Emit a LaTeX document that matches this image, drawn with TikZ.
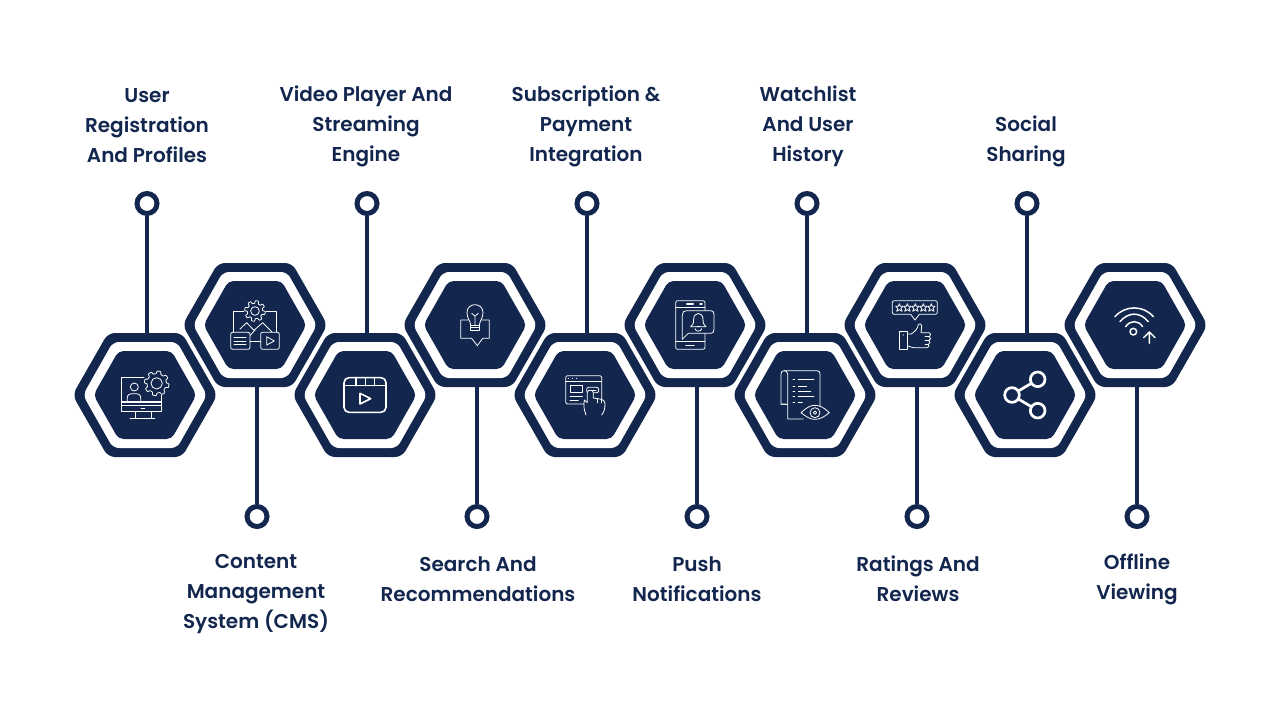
\documentclass[tikz,border=0pt]{standalone}
\usepackage{fontspec}
\setmainfont{Poppins}[BoldFont={Poppins SemiBold}]
\definecolor{navy}{HTML}{12264E}
\tikzset{
  x=1pt,y=-1pt,
  stem/.style={draw=navy,line width=4.4pt},
  dot/.style={circle,draw=navy,line width=5pt,fill=white,minimum size=20pt,inner sep=0pt},
  lab/.style={align=center,font=\fontsize{20}{30}\selectfont\bfseries,text=navy,inner sep=0pt},
  hexbox/.style={rectangle,minimum width=140pt,minimum height=124pt,inner sep=0pt},
  ic/.style={draw=white,line width=.8pt,line join=round,line cap=round},
  icf/.style={ic,fill=navy},
  zoomat/.style 2 args={shift={(#1,#2)},x=.33333pt,y=-.33333pt}
}
\newcommand{\hexpath}[5]{% cx cy halfw halfh halftop
  (#1-#3,#2) -- (#1-#5,#2-#4) -- (#1+#5,#2-#4) -- (#1+#3,#2) -- (#1+#5,#2+#4) -- (#1-#5,#2+#4) -- cycle}
\newcommand{\hexa}[3]{%
  \fill[navy,rounded corners=7pt] \hexpath{#2}{#3}{72.5}{62}{37};
  \fill[white,rounded corners=6pt] \hexpath{#2}{#3}{62}{53}{32};
  \fill[navy,rounded corners=5pt] \hexpath{#2}{#3}{51.5}{44}{26.5};
  \node[hexbox] (#1) at (#2,#3) {};
}
\newcommand{\gear}[5]{% cx cy R A n
  \draw[ic,fill=navy] plot[domain=0:360,samples=161] ({#1+(#3+#4*max(-1,min(1,2.5*sin(#5*\x)))*1)*cos(\x)},{#2+(#3+#4*max(-1,min(1,2.5*sin(#5*\x)))*1)*sin(\x)}) -- cycle;
}
\begin{document}
\begin{tikzpicture}
\useasboundingbox (0,0) rectangle (1280,720);
\fill[white] (0,0) rectangle (1280,720);
% hexagons
\hexa{h1}{145}{395}
\hexa{h2}{255}{325}
\hexa{h3}{365}{395}
\hexa{h4}{475}{325}
\hexa{h5}{585}{395}
\hexa{h6}{695}{325}
\hexa{h7}{805}{395}
\hexa{h8}{915}{325}
\hexa{h9}{1025}{395}
\hexa{h10}{1135}{325}
% end dots
\node[dot] (d1) at (147,203.5) {};
\node[dot] (d2) at (257,516.5) {};
\node[dot] (d3) at (367,203.5) {};
\node[dot] (d4) at (477,516.5) {};
\node[dot] (d5) at (587,203.5) {};
\node[dot] (d6) at (697,516.5) {};
\node[dot] (d7) at (807,203.5) {};
\node[dot] (d8) at (917,516.5) {};
\node[dot] (d9) at (1027,203.5) {};
\node[dot] (d10) at (1137,516.5) {};
% stems
\draw[stem] (d1.south) -- (d1.south |- h1.north);
\draw[stem] (d3.south) -- (d3.south |- h3.north);
\draw[stem] (d5.south) -- (d5.south |- h5.north);
\draw[stem] (d7.south) -- (d7.south |- h7.north);
\draw[stem] (d9.south) -- (d9.south |- h9.north);
\draw[stem] (d2.north) -- (d2.north |- h2.south);
\draw[stem] (d4.north) -- (d4.north |- h4.south);
\draw[stem] (d6.north) -- (d6.north |- h6.south);
\draw[stem] (d8.north) -- (d8.north |- h8.south);
\draw[stem] (d10.north) -- (d10.north |- h10.south);
% labels
\node[lab] (t1) at (147,126) {User\\Registration\\And Profiles};
\node[lab] (t3) at (366,126) {Video Player And\\Streaming\\Engine};
\node[lab] (t5) at (586,126) {Subscription \&\\Payment\\Integration};
\node[lab] (t7) at (808,126) {Watchlist\\And User\\History};
\node[lab] (t9) at (1026,141) {Social\\Sharing};
\node[lab] (t2) at (256,594) {Content\\Management\\System (CMS)};
\node[lab] (t4) at (478,579) {Search And\\Recommendations};
\node[lab] (t6) at (697,579) {Push\\Notifications};
\node[lab] (t8) at (918,579) {Ratings And\\Reviews};
\node[lab] (t10) at (1137,579) {Offline\\Viewing};
% icon 1 and 2
\begin{scope}[zoomat={70}{255}]
  \draw[ic] (222,368) -- (155,368) -- (155,470) -- (275,470) -- (275,420);
  \draw[ic,line width=1.1pt] (155,441) -- (275,441);
  \draw[ic] (155,450) -- (275,450);
  \draw[ic] (213,460) -- (224,460);
  \draw[ic] (195,470) -- (195,490) (243,470) -- (243,490) (180,490) -- (255,490);
  \draw[ic] (193,396) circle (12);
  \draw[ic] (172,438) -- (172,428) .. controls (172,418) and (180,416) .. (192,416) .. controls (204,416) and (212,418) .. (212,428) -- (212,438);
  \gear{260}{385}{33}{4}{8}
  \draw[ic] (260,385) circle (17);
  % icon 2
  \draw[ic] (522,168) -- (490,168) -- (490,232) (588,168) -- (620,168) -- (620,232);
  \draw[ic] (510,222) -- (530,203) -- (552,226) -- (578,203) -- (605,230);
  \draw[ic] (555,225) -- (540,242);
  \gear{555}{168}{27}{4}{8}
  \draw[ic] (555,168) circle (13);
  \draw[icf,rounded corners=2pt] (482,232) rectangle (540,283);
  \draw[icf,rounded corners=2pt] (572,232) rectangle (628,283);
  \draw[ic] (540,258) -- (572,258);
  \draw[ic] (492,246) -- (528,246) (492,258) -- (528,258) (492,269) -- (528,269);
  \draw[ic] (590,245) -- (590,270) -- (613,258) -- cycle;
\end{scope}
% icon 3,4,5
\begin{scope}[zoomat={330}{270}]
  \draw[ic,line width=1.6pt,rounded corners=5pt] (42,323) rectangle (168,427);
  \draw[ic,line width=1.6pt] (42,347) -- (168,347) (78,323) -- (78,347) (106,323) -- (106,347) (134,323) -- (134,347);
  \draw[ic,line width=1.6pt] (90,370) -- (90,402) -- (122,386) -- cycle;
  % bulb
  \draw[ic] (415,150) -- (392,150) -- (392,205) -- (425,205) -- (442,227) -- (458,205) -- (478,205) -- (478,150) -- (455,150);
  \draw[ic] (422,165) .. controls (420,150) and (411,145) .. (411,128) .. controls (411,96) and (459,96) .. (459,128) .. controls (459,145) and (450,150) .. (448,165);
  \draw[ic] (422,165) -- (448,165) (422,172) -- (448,172) (422,180) -- (448,180) (422,165) -- (422,180) (448,165) -- (448,180);
  \draw[ic] (425,130) -- (435,138) -- (445,130) (435,138) -- (435,165);
  % browser
  \draw[ic,rounded corners=2pt] (707,317) rectangle (815,402);
  \draw[ic] (707,335) -- (815,335);
  \fill[white] (715,325) circle (1.8) (727,325) circle (1.8) (740,325) circle (1.8);
  \draw[ic] (720,347) rectangle (757,368);
  \draw[ic] (720,378) -- (757,378) (720,390) -- (745,390);
  \draw[icf,rounded corners=2pt] (770,352) rectangle (806,368);
  \draw[ic] (778,360) -- (798,360);
  \draw[icf] (768,435) .. controls (762,420) and (760,405) .. (763,390) -- (772,398) -- (772,368) .. controls (772,358) and (790,358) .. (790,368) -- (790,384) -- (815,388) .. controls (822,390) and (825,395) .. (825,402) .. controls (825,418) and (822,425) .. (815,435);
  \draw[ic] (802,386) -- (802,398) (814,388) -- (814,398);
  \draw[draw=navy,line width=1.5pt] (780,435) -- (806,435);
\end{scope}
% icon 6,7,8
\begin{scope}[zoomat={640}{270}]
  \draw[ic,rounded corners=2pt] (107,92) rectangle (195,238);
  \draw[ic] (107,113) -- (195,113) (107,215) -- (195,215);
  \draw[ic,line width=1.1pt] (140,102) -- (160,102) (180,102) -- (186,102) (138,227) -- (162,227);
  \draw[icf] (127,208) -- (127,135) .. controls (127,126) and (132,122) .. (140,122) -- (212,122) .. controls (219,122) and (222,126) .. (222,133) -- (222,178) .. controls (222,186) and (219,190) .. (212,190) -- (145,190) -- cycle;
  \draw[ic] (152,170) .. controls (163,160) and (160,155) .. (161,147) .. controls (162,125) and (188,125) .. (189,147) .. controls (190,155) and (187,160) .. (198,170) -- cycle;
  \draw[ic] (165,176) .. controls (167,186) and (183,186) .. (185,176);
  \draw[ic] (171,170) -- (179,170);
  % doc and eye
  \draw[ic] (440,403) -- (423,403) -- (423,312) .. controls (423,305) and (427,302) .. (433,302) -- (530,302) .. controls (537,302) and (540,306) .. (540,312) -- (540,408);
  \draw[ic] (423,403) .. controls (433,400) and (443,405) .. (443,403) (443,312) -- (443,447) -- (490,447);
  \draw[ic] (433,302) .. controls (438,302) and (443,306) .. (443,312);
  \foreach \yy/\xe in {328/522,348/500,365/512,380/522,396/487} {
    \draw[ic] (459,\yy) -- (464,\yy) (475,\yy) -- (\xe,\yy);
  }
  \draw[icf] (483,428) .. controls (500,413) and (510,406) .. (525,406) .. controls (540,406) and (552,413) .. (568,428) .. controls (552,441) and (540,448) .. (525,448) .. controls (510,448) and (500,441) .. (483,428) -- cycle;
  \draw[ic] (525,428) circle (15) (525,428) circle (5);
  % rating
  \draw[ic,rounded corners=2pt] (812,133) -- (757,133) -- (757,92) -- (892,92) -- (892,133) -- (838,133);
  \draw[ic] (812,133) -- (825,150) -- (838,133);
  \foreach \sx in {778,802,826,850,874} {
    \draw[ic] plot coordinates {(\sx,101) (\sx+3,109) (\sx+11,109) (\sx+5,115) (\sx+8,124) (\sx,119) (\sx-8,124) (\sx-5,115) (\sx-11,109) (\sx-3,109) (\sx,101)};
  }
  \draw[ic] (778,183) rectangle (803,238);
  \fill[white] (790,195) circle (1.8);
  \draw[ic] (803,192) -- (813,192) .. controls (822,188) and (835,175) .. (835,163) .. controls (838,158) and (846,162) .. (845,172) -- (843,188) -- (868,188) .. controls (873,188) and (873,198) .. (868,200) .. controls (873,202) and (873,210) .. (867,212) .. controls (872,214) and (871,222) .. (865,223) .. controls (869,226) and (867,233) .. (861,233) -- (820,233) .. controls (812,233) and (810,228) .. (803,228);
  \draw[ic] (855,200) -- (868,200) (855,212) -- (867,212) (855,223) -- (865,223);
\end{scope}
% icon 9,10
\begin{scope}[zoomat={960}{270}]
  \draw[ic,line width=2.7pt] (233,328) circle (22) (156,375) circle (22) (233,422) circle (22);
  \draw[ic,line width=2.7pt,line cap=butt] (175,363) -- (214,340) (175,387) -- (214,410);
  \draw[ic,line width=1.5pt] (465,140) .. controls (495,105) and (550,105) .. (580,140);
  \draw[ic,line width=1.5pt] (480,155) .. controls (505,125) and (540,125) .. (565,155);
  \draw[ic,line width=1.5pt] (497,170) .. controls (510,150) and (535,150) .. (548,170);
  \draw[ic,line width=1.5pt] (520,185) circle (10);
  \draw[ic,line width=1.5pt] (568,220) -- (568,187) (551,203) -- (568,186) -- (585,203);
\end{scope}
\end{tikzpicture}
\end{document}
